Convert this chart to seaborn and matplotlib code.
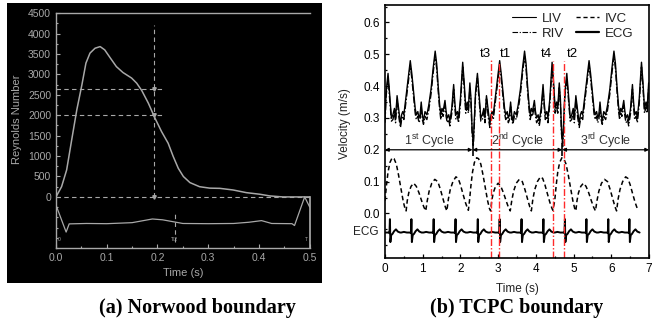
import numpy as np
import pandas as pd
import matplotlib
matplotlib.use("Agg")
import matplotlib.pyplot as plt
from matplotlib.patches import Rectangle
from matplotlib.lines import Line2D
from matplotlib.ticker import MultipleLocator, FormatStrFormatter
import seaborn as sns

# ---- (a) Norwood boundary: Reynolds number over one beat ----
re_time = [0.0, 0.011, 0.021, 0.031, 0.041, 0.051, 0.059, 0.067, 0.077, 0.087,
           0.096, 0.106, 0.119, 0.132, 0.149, 0.159, 0.169, 0.182, 0.195, 0.208,
           0.221, 0.231, 0.241, 0.251, 0.264, 0.283, 0.303, 0.323, 0.349, 0.375,
           0.402, 0.421, 0.447, 0.47, 0.5]
re_value = [0, 250, 660, 1400, 2130, 2740, 3275, 3520, 3640, 3680,
            3600, 3420, 3190, 3045, 2910, 2785, 2605, 2295, 1930, 1600,
            1315, 990, 700, 500, 350, 250, 215, 210, 170, 105,
            65, 25, 0, 0, 0]
ecg_a_time = [0.0, 0.02, 0.026, 0.06, 0.1, 0.15, 0.19, 0.21, 0.25, 0.3, 0.35,
              0.38, 0.405, 0.425, 0.465, 0.47, 0.49, 0.5]
ecg_a_value = [-200, -860, -660, -650, -655, -630, -540, -560, -650, -655, -650,
               -620, -580, -650, -655, -700, 0, -250]
re_ticks = [0, 500, 1000, 1500, 2000, 2500, 3000, 3500, 4000, 4500]
re_levels = [2650, 2000]
re_mark_time = 0.193
ecg_mark_time = 0.234

# ---- (b) TCPC boundary ----
vel_cycle_t = [0.00, 0.03, 0.08, 0.12, 0.17, 0.21, 0.25, 0.28, 0.32, 0.35,
               0.37, 0.41, 0.44, 0.47, 0.50, 0.56, 0.62, 0.67, 0.71, 0.76,
               0.80, 0.83, 0.87, 0.90, 0.93, 0.96, 0.99, 1.02, 1.06, 1.11,
               1.16, 1.22, 1.28, 1.33, 1.37, 1.41, 1.45, 1.48, 1.51, 1.54,
               1.59, 1.62, 1.65, 1.69, 1.72, 1.77, 1.82, 1.85, 1.88, 1.92,
               1.95, 2.00, 2.06, 2.10, 2.14, 2.18, 2.21, 2.25, 2.28, 2.31, 2.34]
liv_cycle = [0.30, 0.38, 0.44, 0.38, 0.30, 0.31, 0.33, 0.30, 0.37, 0.34,
             0.32, 0.28, 0.31, 0.32, 0.31, 0.37, 0.43, 0.48, 0.44, 0.38,
             0.33, 0.31, 0.32, 0.30, 0.31, 0.35, 0.31, 0.29, 0.32, 0.31,
             0.34, 0.39, 0.46, 0.51, 0.47, 0.40, 0.34, 0.31, 0.33, 0.32,
             0.355, 0.32, 0.30, 0.31, 0.29, 0.33, 0.405, 0.35, 0.31, 0.32,
             0.30, 0.36, 0.475, 0.41, 0.33, 0.35, 0.33, 0.41, 0.36, 0.26, 0.22]
riv_cycle = [0.285, 0.37, 0.425, 0.365, 0.29, 0.295, 0.32, 0.285, 0.36, 0.325,
             0.30, 0.27, 0.295, 0.305, 0.295, 0.355, 0.415, 0.465, 0.425, 0.365,
             0.315, 0.295, 0.305, 0.285, 0.295, 0.335, 0.295, 0.28, 0.305, 0.295,
             0.325, 0.375, 0.445, 0.495, 0.455, 0.385, 0.325, 0.295, 0.315, 0.305,
             0.34, 0.305, 0.285, 0.295, 0.275, 0.315, 0.39, 0.335, 0.295, 0.305,
             0.285, 0.345, 0.46, 0.395, 0.315, 0.335, 0.315, 0.395, 0.345, 0.25, 0.21]
vel_cycle_start = [0.0, 2.37, 4.74]

ivc_cycle_t = [0.00, 0.04, 0.08, 0.13, 0.19, 0.24, 0.30, 0.36, 0.42, 0.48,
               0.53, 0.56, 0.59, 0.63, 0.69, 0.76, 0.83, 0.90, 0.97, 1.03,
               1.08, 1.12, 1.17, 1.24, 1.32, 1.40, 1.47, 1.54, 1.60, 1.64,
               1.68, 1.73, 1.80, 1.88, 1.94, 2.00, 2.07, 2.13, 2.19, 2.21]
ivc_cycle = [0.04, 0.09, 0.13, 0.16, 0.175, 0.172, 0.155, 0.12, 0.08, 0.04,
             0.015, 0.008, 0.04, 0.065, 0.085, 0.095, 0.085, 0.065, 0.04, 0.02,
             0.008, 0.04, 0.07, 0.095, 0.107, 0.10, 0.075, 0.045, 0.02, 0.008,
             0.045, 0.075, 0.10, 0.115, 0.11, 0.09, 0.06, 0.035, 0.015, 0.01]
ivc_cycle_start = [0.0, 2.24, 4.50]

ecg_beats = [0.13, 0.70, 1.29, 1.87, 2.46, 3.04, 3.62, 4.20, 4.77, 5.34, 5.92, 6.48]
ecg_offset = [-0.27, -0.20, -0.12, -0.04, -0.012, 0.0, 0.012, 0.035, 0.07, 0.11, 0.16, 0.21, 0.27]
ecg_shape = [-0.060, -0.058, -0.060, -0.060, -0.062, -0.018, -0.090, -0.068,
             -0.064, -0.056, -0.050, -0.057, -0.060]

cycle_edges = [0.0, 2.32, 4.70, 7.0]
cycle_names = ["1$^{st}$ Cycle", "2$^{nd}$ Cycle", "3$^{rd}$ Cycle"]
t_marks = [2.81, 3.02, 4.45, 4.74]
t_mark_top = [0.485, 0.475, 0.48, 0.48]
t_names = ["t3", "t1", "t4", "t2"]
t_label_x = [2.67, 3.20, 4.29, 4.96]


def tile(starts, rel_t, vals, tmax=7.0):
    rows = []
    for s in starts:
        for t, v in zip(rel_t, vals):
            if s + t <= tmax:
                rows.append((s + t, v))
    return pd.DataFrame(rows, columns=["time", "v"])


liv = tile(vel_cycle_start, vel_cycle_t, liv_cycle)
riv = tile(vel_cycle_start, vel_cycle_t, riv_cycle)
ivc = tile(ivc_cycle_start, ivc_cycle_t, ivc_cycle)
ecg = tile(ecg_beats, ecg_offset, ecg_shape)
ecg = ecg[ecg["time"] >= 0]

sns.set_theme(style="white")
plt.rcParams["font.family"] = ["Liberation Sans", "DejaVu Sans"]
plt.rcParams["mathtext.default"] = "regular"

fig = plt.figure(figsize=(6.54, 3.24), dpi=100)
fig.patches.append(Rectangle((0.0107, 0.1265), 0.4817, 0.864, transform=fig.transFigure,
                             facecolor="black", edgecolor="none", zorder=-5))

# ---------------- left panel ----------------
grey = "#a8a8a8"
ax1 = fig.add_axes([0.0856, 0.2346, 0.388, 0.725])
ax1.set_zorder(2)
ax1.set_facecolor("black")
sns.lineplot(x=re_time, y=re_value, ax=ax1, color=grey, lw=1.1, estimator=None)
sns.lineplot(x=ecg_a_time, y=ecg_a_value, ax=ax1, color=grey, lw=0.9, estimator=None)
ax1.hlines(0, 0, 0.5, colors=grey, linestyles=(0, (4, 3)), lw=0.8)
ax1.hlines(re_levels, 0, 0.21, colors=grey, linestyles=(0, (4, 3)), lw=0.8)
ax1.vlines(re_mark_time, 0, 4200, colors=grey, linestyles=(0, (4, 3)), lw=0.8)
ax1.vlines(ecg_mark_time, -1100, -350, colors=grey, linestyles=(0, (4, 3)), lw=0.8)
ax1.plot([re_mark_time] * 3, [2650, 2000, 0], ls="none", marker="v", ms=2.5, color=grey)
ax1.text(0.003, -1080, "0", color=grey, fontsize=3.5)
ax1.text(ecg_mark_time, -1080, "T/2", color=grey, fontsize=3.5, ha="center")
ax1.text(0.497, -1080, "T", color=grey, fontsize=3.5, ha="right")
ax1.set_xlim(0, 0.5)
ax1.set_ylim(-1250, 4500)
ax1.set_yticks(re_ticks)
ax1.yaxis.set_minor_locator(MultipleLocator(250))
ax1.xaxis.set_major_locator(MultipleLocator(0.1))
ax1.xaxis.set_minor_locator(MultipleLocator(0.05))
ax1.xaxis.set_major_formatter(FormatStrFormatter("%.1f"))
ax1.tick_params(axis="both", which="both", direction="in", colors=grey,
                labelsize=7.5, length=3, width=0.8, left=True, bottom=True)
ax1.tick_params(which="minor", length=1.5)
for side in ["left", "bottom", "top"]:
    ax1.spines[side].set_color(grey)
    ax1.spines[side].set_linewidth(1.0)
ax1.spines["right"].set_color(grey)
ax1.spines["right"].set_bounds(-1250, 0)
ax1.set_xlabel("Time (s)", color=grey, fontsize=8, labelpad=4)
ax1.set_ylabel("Reynolds Number", color=grey, fontsize=8)
ax1.yaxis.set_label_coords(-0.135, 0.55)

# ---------------- right panel ----------------
ax2 = fig.add_axes([0.5887, 0.2037, 0.4037, 0.781])
sns.lineplot(data=liv, x="time", y="v", ax=ax2, color="black", lw=1.0, estimator=None)
sns.lineplot(data=riv, x="time", y="v", ax=ax2, color="black", lw=1.0,
             linestyle=(0, (5, 1.5, 1, 1.5)), estimator=None)
sns.lineplot(data=ivc, x="time", y="v", ax=ax2, color="black", lw=1.1,
             linestyle=(0, (3, 2)), estimator=None)
sns.lineplot(data=ecg, x="time", y="v", ax=ax2, color="black", lw=1.4, estimator=None)

ax2.vlines(t_marks, -0.14, t_mark_top, colors="#ff2a2a", linestyles=(0, (5, 1.5, 1, 1.5)), lw=1.0)
for x, name in zip(t_label_x, t_names):
    ax2.text(x, 0.50, name, ha="center", va="center", fontsize=9.5, color="black")

for a, b, name in zip(cycle_edges[:-1], cycle_edges[1:], cycle_names):
    ax2.annotate("", xy=(a, 0.2), xytext=(b, 0.2),
                 arrowprops=dict(arrowstyle="<|-|>", color="black", lw=0.9,
                                 mutation_scale=5, shrinkA=0, shrinkB=0))
    ax2.text((a + b) / 2, 0.228, name, ha="center", va="center", fontsize=9, color="#333333")
ax2.vlines(cycle_edges[1:3], 0.18, 0.22, colors="black", lw=1.2)

ax2.text(-0.025, -0.057, "ECG", transform=ax2.get_yaxis_transform(),
         ha="right", va="center", fontsize=8.5, color="#222222")

ax2.set_xlim(0, 7)
ax2.set_yticks([0.0, 0.1, 0.2, 0.3, 0.4, 0.5, 0.6])
ax2.yaxis.set_minor_locator(MultipleLocator(0.05))
ax2.set_ylim(-0.14, 0.655)
ax2.xaxis.set_major_locator(MultipleLocator(1))
ax2.xaxis.set_minor_locator(MultipleLocator(0.5))
ax2.yaxis.set_major_formatter(FormatStrFormatter("%.1f"))
ax2.tick_params(axis="both", which="both", direction="in", labelsize=8.5,
                length=3, width=0.9, left=True, bottom=True, colors="black")
ax2.tick_params(which="minor", length=1.5)
for side in ax2.spines.values():
    side.set_color("black")
    side.set_linewidth(1.2)
ax2.set_xlabel("Time (s)", fontsize=8.5, labelpad=6, color="#222222")
ax2.set_ylabel("Velocity (m/s)", fontsize=8.5, color="#222222")
ax2.yaxis.set_label_coords(-0.127, 0.53)

handles = [Line2D([], [], color="black", lw=0.8),
           Line2D([], [], color="black", lw=0.8, ls=(0, (5, 1.5, 1, 1.5))),
           Line2D([], [], color="black", lw=1.0, ls=(0, (3, 2))),
           Line2D([], [], color="black", lw=1.6)]
ax2.legend(handles, ["LIV", "RIV", "IVC", "ECG"], ncol=2, frameon=False,
           loc="upper right", bbox_to_anchor=(0.97, 1.0), fontsize=9.5,
           handlelength=1.8, columnspacing=0.9, labelspacing=0.2, handletextpad=0.4,
           borderaxespad=0.2, labelcolor="#222222")

# captions
fig.text(197 / 654, 1 - 308 / 324, "(a) Norwood boundary", ha="center", va="center",
         fontsize=14.5, fontweight="bold", family="Liberation Serif", color="black")
fig.text(517 / 654, 1 - 308 / 324, "(b) TCPC boundary", ha="center", va="center",
         fontsize=14.5, fontweight="bold", family="Liberation Serif", color="black")

fig.savefig("out.png", dpi=100)
